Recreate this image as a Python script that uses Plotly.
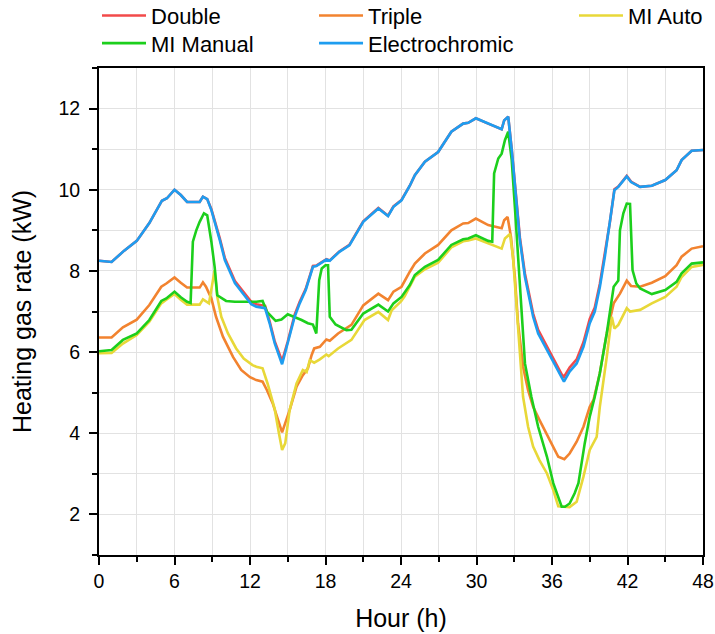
import plotly.graph_objects as go

# ---------------- data ----------------
ec_x = [0, 1, 2, 3, 4, 5, 5.4, 6, 6.5, 7, 8, 8.26, 8.6, 8.93, 9.6, 10.0, 10.8, 12.1, 12.5, 13.2,
        13.56, 13.96, 14.55, 15.0, 15.55, 15.95, 16.43, 17.0, 17.27, 18.07, 18.34, 19.1, 19.9, 21.0,
        22.2, 22.97, 23.4, 24.04, 24.7, 25.1, 25.9, 26.95, 28.0, 28.94, 29.34, 29.95, 30.93, 32.0,
        32.2, 32.52, 32.8, 33.05, 33.45, 33.85, 34.5, 34.9, 35.6, 36.2, 36.77, 36.95, 37.4, 37.96,
        38.5, 39.0, 39.4, 39.8, 40.2, 40.6, 40.96, 41.27, 41.94, 42.28, 43.0, 43.93, 45.0, 45.9,
        46.3, 47.1, 48]
ec_y = [8.25, 8.22, 8.5, 8.74, 9.18, 9.73, 9.79, 10.0, 9.87, 9.7, 9.7, 9.83, 9.77, 9.5, 8.76, 8.27,
        7.7, 7.18, 7.12, 7.08, 6.71, 6.22, 5.7, 6.2, 6.87, 7.2, 7.53, 8.1, 8.12, 8.28, 8.25, 8.47,
        8.63, 9.21, 9.54, 9.35, 9.58, 9.74, 10.1, 10.36, 10.69, 10.93, 11.43, 11.63, 11.65, 11.76,
        11.63, 11.49, 11.71, 11.8, 10.98, 10.15, 8.76, 7.85, 6.87, 6.46, 6.05, 5.68, 5.35, 5.27,
        5.52, 5.72, 6.13, 6.71, 7.0, 7.6, 8.35, 9.17, 9.99, 10.07, 10.33, 10.19, 10.07, 10.1,
        10.24, 10.48, 10.73, 10.96, 10.98]

db_x = ec_x
db_y = [8.25, 8.22, 8.5, 8.74, 9.18, 9.73, 9.79, 10.0, 9.87, 9.7, 9.7, 9.83, 9.77, 9.52, 8.8, 8.32,
        7.75, 7.24, 7.18, 7.14, 6.76, 6.27, 5.78, 6.26, 6.92, 7.24, 7.56, 8.12, 8.13, 8.29, 8.26,
        8.48, 8.64, 9.22, 9.55, 9.36, 9.59, 9.75, 10.1, 10.36, 10.69, 10.93, 11.43, 11.63, 11.65,
        11.76, 11.63, 11.49, 11.71, 11.8, 11.0, 10.2, 8.82, 7.93, 6.95, 6.55, 6.14, 5.78, 5.45,
        5.39, 5.62, 5.82, 6.24, 6.82, 7.1, 7.68, 8.4, 9.2, 10.01, 10.08, 10.34, 10.2, 10.07,
        10.1, 10.24, 10.48, 10.73, 10.96, 10.98]

tr_x = [0, 1, 1.9, 3.0, 4.0, 4.95, 5.35, 6.0, 6.5, 7.0, 8.0, 8.26, 8.5, 8.93, 9.3, 9.85, 10.65,
        11.3, 12.0, 12.5, 13.0, 13.35, 13.8, 14.55, 15.15, 15.7, 16.2, 16.6, 16.9, 17.1, 17.55,
        18.07, 18.34, 19.0, 20.06, 21.0, 22.2, 22.97, 23.4, 24.04, 24.7, 25.1, 25.9, 26.95, 28.0,
        28.94, 29.34, 29.95, 30.93, 32.0, 32.2, 32.47, 32.74, 33.05, 33.3, 33.7, 34.1, 34.5, 35.0,
        35.7, 36.5, 36.98, 37.4, 37.96, 38.5, 39.0, 39.3, 39.8, 40.35, 40.9, 41.4, 41.94, 42.28,
        43.0, 43.93, 45.0, 45.9, 46.3, 47.1, 48]
tr_y = [6.36, 6.36, 6.61, 6.8, 7.16, 7.61, 7.69, 7.84, 7.71, 7.59, 7.59, 7.72, 7.61, 7.32, 6.87,
        6.38, 5.88, 5.56, 5.38, 5.31, 5.27, 5.06, 4.74, 4.02, 4.57, 5.15, 5.43, 5.6, 5.93, 6.09,
        6.13, 6.31, 6.28, 6.46, 6.67, 7.15, 7.44, 7.28, 7.49, 7.61, 7.98, 8.18, 8.43, 8.64, 9.0,
        9.17, 9.18, 9.29, 9.13, 9.05, 9.25, 9.33, 8.84, 7.85, 6.71, 5.64, 5.06, 4.65, 4.33, 3.91,
        3.42, 3.36, 3.5, 3.79, 4.16, 4.65, 4.82, 5.48, 6.46, 7.2, 7.44, 7.76, 7.63, 7.61, 7.71,
        7.87, 8.14, 8.35, 8.55, 8.61]

ma_x = [0, 1, 1.9, 3.0, 4.0, 4.95, 5.35, 6.0, 6.5, 7.0, 8.0, 8.26, 8.74, 8.93, 9.19, 9.4, 9.72,
        10.25, 10.9, 11.5, 12.2, 12.5, 13.0, 13.4, 13.96, 14.3, 14.55, 14.8, 15.15, 15.7, 16.2,
        16.5, 16.75, 17.1, 17.55, 18.07, 18.25, 19.0, 20.06, 21.1, 22.2, 22.97, 23.26, 24.0, 24.3,
        25.1, 25.9, 26.95, 28.0, 28.94, 29.34, 29.95, 30.93, 32.0, 32.26, 32.66, 32.9, 33.2, 33.45,
        33.7, 34.1, 34.5, 35.0, 35.6, 36.1, 36.5, 37.4, 37.96, 38.5, 39.0, 39.55, 39.8, 40.35,
        40.75, 40.96, 41.27, 41.94, 42.2, 43.0, 43.93, 45.0, 45.9, 46.3, 47.1, 48]
ma_y = [5.97, 5.98, 6.21, 6.42, 6.75, 7.2, 7.29, 7.43, 7.29, 7.17, 7.17, 7.3, 7.2, 7.53, 8.02,
        7.36, 6.87, 6.46, 6.09, 5.84, 5.68, 5.64, 5.6, 5.22, 4.6, 4.0, 3.59, 3.75, 4.57, 5.23,
        5.56, 5.51, 5.8, 5.74, 5.82, 5.94, 5.9, 6.09, 6.3, 6.79, 6.99, 6.79, 7.03, 7.25, 7.38,
        7.86, 8.04, 8.2, 8.58, 8.73, 8.75, 8.8, 8.68, 8.55, 8.8, 8.91, 8.35, 7.12, 5.88, 4.9,
        4.16, 3.67, 3.34, 3.01, 2.6, 2.2, 2.18, 2.31, 2.93, 3.59, 3.91, 4.65, 5.88, 6.87, 6.58,
        6.67, 7.08, 7.0, 7.04, 7.2, 7.36, 7.61, 7.85, 8.1, 8.15]

mm_x = [0, 1, 1.9, 3.0, 4.0, 4.95, 5.35, 6.0, 6.5, 7.0, 7.28, 7.46, 7.73, 8.0, 8.34, 8.6, 8.93,
        9.19, 9.4, 10.1, 10.8, 12.0, 12.5, 13.0, 13.35, 14.04, 14.5, 15.0, 15.7, 16.1, 16.6, 17.0,
        17.27, 17.5, 17.7, 18.0, 18.2, 18.34, 18.8, 19.66, 20.06, 21.0, 22.2, 22.97, 23.4, 24.04,
        24.7, 25.1, 25.9, 26.95, 28.0, 28.94, 29.34, 29.95, 30.93, 31.25, 31.4, 31.73, 32.0, 32.26,
        32.52, 32.8, 33.05, 33.3, 33.6, 33.85, 34.36, 34.9, 35.6, 36.1, 36.77, 37.03, 37.4, 37.8,
        38.1, 38.6, 39.0, 39.4, 39.8, 40.35, 40.9, 41.27, 41.4, 41.67, 41.94, 42.2, 42.4, 42.7,
        43.0, 43.93, 45.0, 45.9, 46.3, 47.1, 48]
mm_y = [6.02, 6.05, 6.3, 6.46, 6.79, 7.26, 7.32, 7.49, 7.35, 7.24, 7.21, 8.72, 9.0, 9.21, 9.42,
        9.37, 8.72, 8.1, 7.4, 7.26, 7.24, 7.23, 7.24, 7.26, 6.99, 6.77, 6.8, 6.93, 6.85, 6.79,
        6.71, 6.68, 6.46, 7.77, 8.06, 8.14, 8.14, 6.87, 6.68, 6.54, 6.55, 6.95, 7.17, 7.0, 7.2,
        7.36, 7.65, 7.9, 8.1, 8.27, 8.64, 8.78, 8.8, 8.88, 8.74, 8.72, 10.4, 10.77, 10.89, 11.22,
        11.43, 10.73, 9.58, 8.35, 6.71, 5.72, 4.9, 4.16, 3.42, 2.77, 2.19, 2.19, 2.27, 2.52, 2.77,
        3.75, 4.41, 4.9, 5.48, 6.46, 7.61, 7.76, 9.0, 9.42, 9.66, 9.65, 8.02, 7.69, 7.57, 7.43,
        7.53, 7.73, 7.94, 8.18, 8.21]

x_ticks = [0, 6, 12, 18, 24, 30, 36, 42, 48]
y_ticks = [2, 4, 6, 8, 10, 12]

# ---------------- figure ----------------
FONT = "Liberation Sans, Arial, sans-serif"
# (name, x, y, colour, legend id)
series = [
    ("Double", db_x, db_y, "#F24A4A", "legend"),
    ("Triple", tr_x, tr_y, "#F2832F", "legend2"),
    ("MI Auto", ma_x, ma_y, "#E8D838", "legend3"),
    ("MI Manual", mm_x, mm_y, "#1CCF1C", "legend4"),
    ("Electrochromic", ec_x, ec_y, "#1E9DF0", "legend5"),
]

fig = go.Figure()
for name, xs, ys, color, lg in series:
    fig.add_trace(go.Scatter(x=xs, y=ys, mode="lines", name=name, showlegend=True,
                             line=dict(color=color, width=2.6), legend=lg))

def leg(x, y):
    return dict(orientation="v", x=x, y=y, xanchor="left", yanchor="middle",
                font=dict(family=FONT, size=22, color="black"),
                bgcolor="rgba(0,0,0,0)", itemwidth=44, visible=True)

ROW1, ROW2 = 1.1074, 1.0507
fig.update_layout(
    width=715, height=634,
    showlegend=True,
    margin=dict(l=99, r=12, t=68, b=79, autoexpand=False),
    paper_bgcolor="white", plot_bgcolor="white",
    font=dict(family=FONT, color="black"),
    legend=leg(-0.0033, ROW1),
    legend2=leg(0.356, ROW1),
    legend3=leg(0.7864, ROW1),
    legend4=leg(-0.0033, ROW2),
    legend5=leg(0.356, ROW2),
)

axis_common = dict(showline=True, linecolor="black", linewidth=2, mirror=True,
                   ticks="outside", ticklen=8, tickwidth=1.5, tickcolor="black",
                   showgrid=True, gridcolor="#E2E2E2", gridwidth=1, zeroline=False,
                   tickfont=dict(family=FONT, size=19.5, color="black"))
fig.update_xaxes(range=[0, 48], tickvals=x_ticks, **axis_common,
                 minor=dict(dtick=3, ticks="outside", ticklen=5, tickcolor="black",
                            showgrid=True, gridcolor="#E2E2E2"),
                 title=dict(text="Hour (h)", font=dict(family=FONT, size=25), standoff=18))
fig.update_yaxes(range=[1, 13], tickvals=y_ticks, **axis_common, ticklabelstandoff=5,
                 minor=dict(dtick=1, ticks="outside", ticklen=5, tickcolor="black",
                            showgrid=True, gridcolor="#E2E2E2"),
                 title=dict(text="Heating gas rate (kW)", font=dict(family=FONT, size=25),
                            standoff=20))

fig.write_html("out.html")
